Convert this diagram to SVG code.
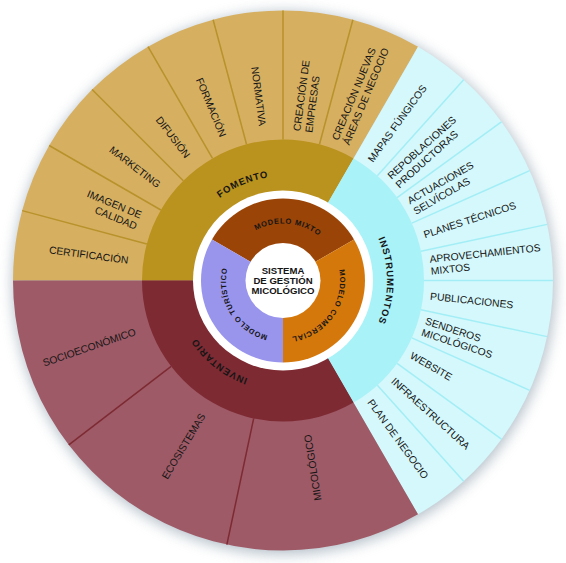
<svg xmlns="http://www.w3.org/2000/svg" width="566" height="563" viewBox="0 0 566 563">
<defs>
<filter id="sh" x="-20%" y="-20%" width="140%" height="140%"><feGaussianBlur stdDeviation="7"/></filter>
<path id="catArc" d="M283,176.5 A104,104 0 1 1 283,384.5 A104,104 0 1 1 283,176.5"/>
<path id="modArc" d="M283,337.5 A57,57 0 1 1 283,223.5 A57,57 0 1 1 283,337.5"/>
<style>
text{font-family:"Liberation Sans",Arial,sans-serif;fill:#151515}
.lbl{font-size:10.3px}
.l{text-anchor:end}
.cat{font-size:9.5px;font-weight:bold;letter-spacing:0.9px;text-anchor:middle}
.mod{font-size:7.5px;font-weight:bold;letter-spacing:0.7px;text-anchor:middle}
.ctr{font-size:9.6px;font-weight:bold;text-anchor:middle}
.sf{stroke:#b8922a;stroke-width:1.5}
.si{stroke:#a3eef6;stroke-width:1.5}
.sv{stroke:#7d2a33;stroke-width:1.5}
</style>
</defs>
<rect width="566" height="563" fill="#ffffff"/>
<circle cx="284" cy="283" r="271" fill="#7f93a3" opacity="0.6" filter="url(#sh)"/>

<g id="outer-ring">
<path d="M283,280.5 L13,280.5 A270,270 0 0 1 418,46.67 Z" fill="#d6af61"/>
<path d="M283,280.5 L418,46.67 A270,270 0 0 1 418,514.33 Z" fill="#d4f8fb"/>
<path d="M283,280.5 L418,514.33 A270,270 0 0 1 13,280.5 Z" fill="#9e5a66"/>
</g>

<g id="separators">
<line class="sf" x1="146.81" y1="244.01" x2="22.2" y2="210.62"/>
<line class="sf" x1="160.89" y1="210" x2="49.17" y2="145.5"/>
<line class="sf" x1="183.3" y1="180.8" x2="92.08" y2="89.58"/>
<line class="sf" x1="212.5" y1="158.39" x2="148" y2="46.67"/>
<line class="sf" x1="246.51" y1="144.31" x2="213.12" y2="19.7"/>
<line class="sf" x1="283" y1="139.5" x2="283" y2="10.5"/>
<line class="sf" x1="319.49" y1="144.31" x2="352.88" y2="19.7"/>
<line class="si" x1="377.34" y1="175.72" x2="463.66" y2="79.86"/>
<line class="si" x1="397.07" y1="197.62" x2="501.43" y2="121.8"/>
<line class="si" x1="411.81" y1="223.15" x2="529.65" y2="170.68"/>
<line class="si" x1="420.92" y1="251.18" x2="547.1" y2="224.36"/>
<line class="si" x1="424" y1="280.5" x2="553" y2="280.5"/>
<line class="si" x1="420.92" y1="309.82" x2="547.1" y2="336.64"/>
<line class="si" x1="411.81" y1="337.85" x2="529.65" y2="390.32"/>
<line class="si" x1="397.07" y1="363.38" x2="501.43" y2="439.2"/>
<line class="si" x1="377.34" y1="385.28" x2="463.66" y2="481.14"/>
<line class="sv" x1="253.68" y1="418.42" x2="226.86" y2="544.6"/>
<line class="sv" x1="171.13" y1="366.34" x2="68.78" y2="444.88"/>
</g>

<g id="fomento">
<path d="M283,280.5 L142,280.5 A141,141 0 0 1 353.5,158.39 Z" fill="#ba921e"/>
<text class="cat"><textPath href="#catArc" startOffset="611.7">FOMENTO</textPath></text>
</g>
<g id="instrumentos">
<path d="M283,280.5 L353.5,158.39 A141,141 0 0 1 353.5,402.61 Z" fill="#a8f2f8"/>
<text class="cat"><textPath href="#catArc" startOffset="163.4">INSTRUMENTOS</textPath></text>
</g>
<g id="inventario">
<path d="M283,280.5 L353.5,402.61 A141,141 0 0 1 142,280.5 Z" fill="#7d2a33"/>
<text class="cat"><textPath href="#catArc" startOffset="395.7">INVENTARIO</textPath></text>
</g>

<circle cx="283" cy="280.5" r="90" fill="#ffffff"/>

<g id="modelo-mixto">
<path d="M283,280.5 L211.99,239.5 A82,82 0 0 1 354.01,239.5 Z" fill="#9a4407"/>
<text class="mod"><textPath href="#modArc" startOffset="184.04">MODELO MIXTO</textPath></text>
</g>
<g id="modelo-comercial">
<path d="M283,280.5 L354.01,239.5 A82,82 0 0 1 283,362.5 Z" fill="#d5780b"/>
<text class="mod"><textPath href="#modArc" startOffset="303.4">MODELO COMERCIAL</textPath></text>
</g>
<g id="modelo-turistico">
<path d="M283,280.5 L283,362.5 A82,82 0 0 1 211.99,239.5 Z" fill="#9994ec"/>
<text class="mod"><textPath href="#modArc" startOffset="58.7">MODELO TURÍSTICO</textPath></text>
</g>

<g id="sistema">
<circle cx="283" cy="280.5" r="37.5" fill="#ffffff"/>
<text class="ctr" x="283" y="273.8">SISTEMA</text>
<text class="ctr" x="283" y="283.8">DE GESTIÓN</text>
<text class="ctr" x="283" y="293.8">MICOLÓGICO</text>
</g>

<g id="fomento-labels">
<g id="certificacion"><text class="lbl l" transform="rotate(7.5 283 280.5)" x="127" y="284.2">CERTIFICACIÓN</text></g>
<g id="imagen"><text class="lbl l" transform="rotate(22.5 283 280.5)"><tspan x="127" y="278.2">IMAGEN DE</tspan><tspan x="127" y="290.2">CALIDAD</tspan></text></g>
<g id="marketing"><text class="lbl l" transform="rotate(37.5 283 280.5)" x="127" y="284.2">MARKETING</text></g>
<g id="difusion"><text class="lbl l" transform="rotate(52.5 283 280.5)" x="127" y="284.2">DIFUSIÓN</text></g>
<g id="formacion"><text class="lbl l" transform="rotate(67.5 283 280.5)" x="127" y="284.2">FORMACIÓN</text></g>
<g id="normativa"><text class="lbl l" transform="rotate(82.5 283 280.5)" x="127" y="284.2">NORMATIVA</text></g>
<g id="creacion-empresas"><text class="lbl" transform="rotate(-82.5 283 280.5)"><tspan x="433" y="278.2">CREACIÓN DE</tspan><tspan x="433" y="290.2">EMPRESAS</tspan></text></g>
<g id="creacion-areas"><text class="lbl" transform="rotate(-67.5 283 280.5)"><tspan x="433" y="278.2">CREACIÓN NUEVAS</tspan><tspan x="433" y="290.2">ÁREAS DE NEGOCIO</tspan></text></g>
</g>

<g id="instrumentos-labels">
<g id="mapas"><text class="lbl" transform="rotate(-54 283 280.5)" x="431" y="284.2">MAPAS FÚNGICOS</text></g>
<g id="repoblaciones"><text class="lbl" transform="rotate(-42 283 280.5)"><tspan x="431" y="278.2">REPOBLACIONES</tspan><tspan x="431" y="290.2">PRODUCTORAS</tspan></text></g>
<g id="actuaciones"><text class="lbl" transform="rotate(-30 283 280.5)"><tspan x="431" y="278.2">ACTUACIONES</tspan><tspan x="431" y="290.2">SELVÍCOLAS</tspan></text></g>
<g id="planes"><text class="lbl" transform="rotate(-18 283 280.5)" x="431" y="284.2">PLANES TÉCNICOS</text></g>
<g id="aprovechamientos"><text class="lbl" transform="rotate(-6 283 280.5)"><tspan x="431" y="278.2">APROVECHAMIENTOS</tspan><tspan x="431" y="290.2">MIXTOS</tspan></text></g>
<g id="publicaciones"><text class="lbl" transform="rotate(6 283 280.5)" x="431" y="284.2">PUBLICACIONES</text></g>
<g id="senderos"><text class="lbl" transform="rotate(18 283 280.5)"><tspan x="431" y="278.2">SENDEROS</tspan><tspan x="431" y="290.2">MICOLÓGICOS</tspan></text></g>
<g id="website"><text class="lbl" transform="rotate(30 283 280.5)" x="431" y="284.2">WEBSITE</text></g>
<g id="infraestructura"><text class="lbl" transform="rotate(42 283 280.5)" x="431" y="284.2">INFRAESTRUCTURA</text></g>
<g id="plan-negocio"><text class="lbl" transform="rotate(54 283 280.5)" x="431" y="284.2">PLAN DE NEGOCIO</text></g>
</g>

<g id="inventario-labels">
<g id="micologico"><text class="lbl l" transform="rotate(-99 283 280.5)" x="127" y="284.2">MICOLÓGICO</text></g>
<g id="ecosistemas"><text class="lbl l" transform="rotate(-59 283 280.5)" x="127" y="284.2">ECOSISTEMAS</text></g>
<g id="socioeconomico"><text class="lbl l" transform="rotate(-19 283 280.5)" x="127" y="284.2">SOCIOECONÓMICO</text></g>
</g>
</svg>
